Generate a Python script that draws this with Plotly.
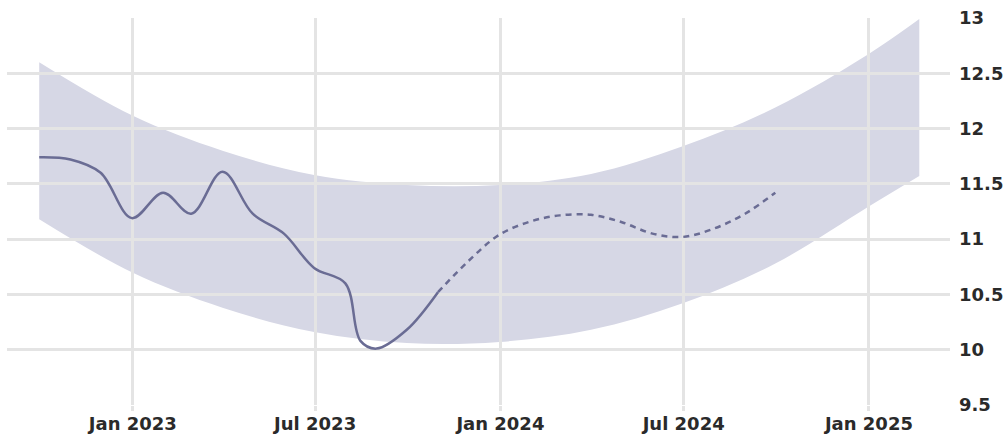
import plotly.graph_objects as go

# ---- data ----
actual_dates = ["2022-09-30", "2022-10-31", "2022-11-30", "2022-12-31", "2023-01-31",
                "2023-02-28", "2023-03-31", "2023-04-30", "2023-05-31", "2023-06-30",
                "2023-07-31", "2023-08-15", "2023-08-31", "2023-09-30", "2023-10-31"]
actual_values = [11.74, 11.72, 11.60, 11.19, 11.42, 11.23, 11.61, 11.23, 11.05, 10.74,
                 10.60, 10.08, 10.01, 10.18, 10.52]

forecast_dates = ["2023-10-31", "2023-11-30", "2023-12-31", "2024-01-31", "2024-02-29",
                  "2024-03-31", "2024-04-30", "2024-05-31", "2024-06-30", "2024-07-31",
                  "2024-08-31", "2024-09-30"]
forecast_values = [10.52, 10.80, 11.04, 11.16, 11.215, 11.22, 11.155, 11.05, 11.02, 11.095,
                   11.23, 11.42]

band_dates = ["2022-09-30", "2022-12-31", "2023-03-31", "2023-06-30", "2023-09-30",
              "2023-12-31", "2024-03-31", "2024-06-30", "2024-09-30", "2024-12-31",
              "2025-02-20"]
band_upper = [12.60, 12.12, 11.80, 11.58, 11.49, 11.49, 11.59, 11.84, 12.19, 12.67, 12.99]
band_lower = [11.18, 10.70, 10.38, 10.16, 10.06, 10.07, 10.18, 10.42, 10.78, 11.29, 11.57]

y_ticks = [9.5, 10, 10.5, 11, 11.5, 12, 12.5, 13]
x_range = ["2022-08-29", "2025-03-22 12:00"]
y_range = [9.5, 13]

LINE = "#6a6c94"
BAND = "#d6d7e5"
GRID = "#e4e4e4"
TEXT = "#2a2a2a"
FONT = dict(family="DejaVu Sans", size=18, color=TEXT, weight="bold")

fig = go.Figure()

# band on the lower subplot (x, y)
fig.add_trace(go.Scatter(x=band_dates, y=band_lower, mode="lines",
                         line=dict(width=0, shape="spline", color=BAND),
                         xaxis="x", yaxis="y", showlegend=False, hoverinfo="skip"))
fig.add_trace(go.Scatter(x=band_dates, y=band_upper, mode="lines", fill="tonexty",
                         fillcolor=BAND, line=dict(width=0, shape="spline", color=BAND),
                         xaxis="x", yaxis="y", showlegend=False, hoverinfo="skip"))

# lines on the upper subplot (x2, y2) so the grid sits between band and line
fig.add_trace(go.Scatter(x=actual_dates, y=actual_values, mode="lines",
                         line=dict(width=2.5, color=LINE, shape="spline", smoothing=1),
                         xaxis="x2", yaxis="y2", showlegend=False))
fig.add_trace(go.Scatter(x=forecast_dates, y=forecast_values, mode="lines",
                         line=dict(width=2.5, color=LINE, shape="spline", smoothing=1,
                                   dash="6px,5px"),
                         xaxis="x2", yaxis="y2", showlegend=False))

hidden = dict(showgrid=False, zeroline=False, showticklabels=False, showline=False,
              ticks="", fixedrange=True, automargin=False)

fig.update_layout(
    width=1006, height=440,
    margin=dict(l=7, r=56, t=18, b=35),
    paper_bgcolor="white", plot_bgcolor="rgba(0,0,0,0)",
    showlegend=False,
    xaxis=dict(domain=[0, 1], anchor="y", type="date", range=x_range, **hidden),
    yaxis=dict(domain=[0, 1], anchor="x", range=y_range, **hidden),
    xaxis2=dict(domain=[0, 1], anchor="y2", type="date", range=x_range,
                showgrid=True, gridcolor=GRID, gridwidth=2.5, zeroline=False,
                showline=False, ticks="outside", ticklen=5, tickcolor=GRID, tickwidth=2.5,
                tick0="2023-01-01", dtick="M6", tickformat="%b %Y", ticklabelstandoff=-3,
                tickfont=FONT, fixedrange=True, automargin=False),
    yaxis2=dict(domain=[0, 1], anchor="x2", side="right", range=y_range,
                tickvals=y_ticks, showgrid=True, gridcolor=GRID, gridwidth=2.5,
                zeroline=False, showline=False, ticks="", ticklabelstandoff=8,
                tickfont=FONT, fixedrange=True, automargin=False),
)

fig.write_html("out.html", config={"displayModeBar": False},
               post_script="document.body.style.margin='0';")
